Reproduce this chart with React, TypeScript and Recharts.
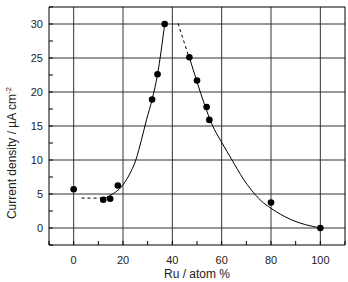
import React from 'react';
import { ComposedChart, Line, Scatter, XAxis, YAxis, ReferenceLine } from 'recharts';

// tick positions (majors carry labels and grid lines, minors are just short inward marks)
const ruTicks = [-10, 0, 10, 20, 30, 40, 50, 60, 70, 80, 90, 100, 110];
const jTicks = [-2.5, 0, 2.5, 5, 7.5, 10, 12.5, 15, 17.5, 20, 22.5, 25, 27.5, 30, 32.5];
const ruGrid = [0, 20, 40, 60, 80, 100];
const jGrid = [0, 5, 10, 15, 20, 25, 30];

// measured points
const pointRu = [0, 12.0, 14.8, 17.9, 31.8, 34.0, 36.9, 46.9, 50.0, 53.9, 55.0, 80, 100];
const pointJ = [5.7, 4.15, 4.3, 6.25, 18.9, 22.6, 30.0, 25.1, 21.7, 17.8, 15.9, 3.75, 0];

// guide curves drawn through the data
const leftDashRu = [3.2, 13.2];
const leftDashJ = [4.4, 4.4];
const leftCurveRu = [13.2, 15.8, 19.2, 22.5, 25.2, 27.5, 29.6, 31.8, 34.0, 36.9];
const leftCurveJ = [4.5, 5.0, 6.0, 7.8, 10.0, 13.0, 16.0, 18.9, 22.6, 30.0];
const rightDashRu = [42.3, 46.5];
const rightDashJ = [30.1, 25.4];
const rightCurveRu = [46.9, 50.0, 53.0, 56.0, 60.0, 64.2, 68.8, 72, 76, 80, 88, 100];
const rightCurveJ = [25.1, 21.5, 18.2, 15.3, 12.6, 10.0, 7.2, 5.6, 4.0, 2.9, 1.25, 0];

const zip = (xs: number[], ys: number[]) => xs.map((ru, i) => ({ ru, j: ys[i] }));

const points = zip(pointRu, pointJ);
const leftDash = zip(leftDashRu, leftDashJ);
const leftCurve = zip(leftCurveRu, leftCurveJ);
const rightDash = zip(rightDashRu, rightDashJ);
const rightCurve = zip(rightCurveRu, rightCurveJ);

const font = '"Liberation Sans", Arial, sans-serif';
const TICK = 4;

const BottomTick = (props: any) => {
  const { x, y, payload } = props;
  const v = payload.value;
  return (
    <g>
      <line x1={x} y1={y} x2={x} y2={y - TICK} stroke="#000" />
      {ruGrid.includes(v) && (
        <text x={x} y={y + 19} textAnchor="middle" fontSize={11} fontFamily={font} fill="#222">
          {v}
        </text>
      )}
    </g>
  );
};

const TopTick = (props: any) => {
  const { x, y } = props;
  return <line x1={x} y1={y} x2={x} y2={y + TICK} stroke="#000" />;
};

const LeftTick = (props: any) => {
  const { x, y, payload } = props;
  const v = payload.value;
  return (
    <g>
      <line x1={x} y1={y} x2={x + TICK} y2={y} stroke="#000" />
      {jGrid.includes(v) && (
        <text x={x - 6} y={y + 4} textAnchor="end" fontSize={11} fontFamily={font} fill="#222">
          {v}
        </text>
      )}
    </g>
  );
};

const RightTick = (props: any) => {
  const { x, y } = props;
  return <line x1={x} y1={y} x2={x - TICK} y2={y} stroke="#000" />;
};

const XLabel = () => (
  <text x={197} y={277.5} textAnchor="middle" fontSize={12} fontFamily={font} fill="#222">
    Ru / atom %
  </text>
);

const YLabel = () => (
  <text
    transform="translate(16, 153) rotate(-90)"
    textAnchor="middle"
    fontSize={12}
    fontFamily={font}
    fill="#222"
  >
    Current density / µA cm
    <tspan fontSize={8} dy={-5}>-2</tspan>
  </text>
);

export default function App() {
  return (
    <div style={{ position: 'absolute', left: 0, top: 0, background: '#fff' }}>
      <ComposedChart width={348} height={282} margin={{ top: 6, right: 2, bottom: 0, left: 0 }}>
        <XAxis
          dataKey="ru"
          type="number"
          domain={[-10, 110]}
          ticks={ruTicks}
          interval={0}
          tickSize={0}
          tickMargin={0}
          height={37}
          axisLine={{ stroke: '#000' }}
          tick={<BottomTick />}
          label={<XLabel />}
        />
        <XAxis
          xAxisId="t"
          orientation="top"
          type="number"
          domain={[-10, 110]}
          ticks={ruTicks}
          interval={0}
          tickSize={0}
          tickMargin={0}
          height={1}
          axisLine={{ stroke: '#000' }}
          tick={<TopTick />}
        />
        <YAxis
          dataKey="j"
          type="number"
          domain={[-2.5, 32.5]}
          ticks={jTicks}
          interval={0}
          tickSize={0}
          tickMargin={0}
          width={49}
          axisLine={{ stroke: '#000' }}
          tick={<LeftTick />}
          label={<YLabel />}
        />
        <YAxis
          yAxisId="r"
          orientation="right"
          type="number"
          domain={[-2.5, 32.5]}
          ticks={jTicks}
          interval={0}
          tickSize={0}
          tickMargin={0}
          width={1}
          axisLine={{ stroke: '#000' }}
          tick={<RightTick />}
        />
        {ruGrid.map((v) => (
          <ReferenceLine key={'x' + v} x={v} stroke="#333" strokeWidth={1} />
        ))}
        {jGrid.map((v) => (
          <ReferenceLine key={'y' + v} y={v} stroke="#333" strokeWidth={1} />
        ))}
        <Line data={leftDash} dataKey="j" type="linear" stroke="#000" strokeWidth={1} strokeDasharray="3 3" dot={false} activeDot={false} isAnimationActive={false} />
        <Line data={leftCurve} dataKey="j" type="monotone" stroke="#000" strokeWidth={1} dot={false} activeDot={false} isAnimationActive={false} />
        <Line data={rightDash} dataKey="j" type="linear" stroke="#000" strokeWidth={1} strokeDasharray="3 3" dot={false} activeDot={false} isAnimationActive={false} />
        <Line data={rightCurve} dataKey="j" type="monotone" stroke="#000" strokeWidth={1} dot={false} activeDot={false} isAnimationActive={false} />
        <Scatter
          data={points}
          dataKey="j"
          fill="#000"
          isAnimationActive={false}
          shape={(p: any) => <circle cx={p.cx} cy={p.cy} r={3.3} fill="#000" />}
        />
      </ComposedChart>
    </div>
  );
}
